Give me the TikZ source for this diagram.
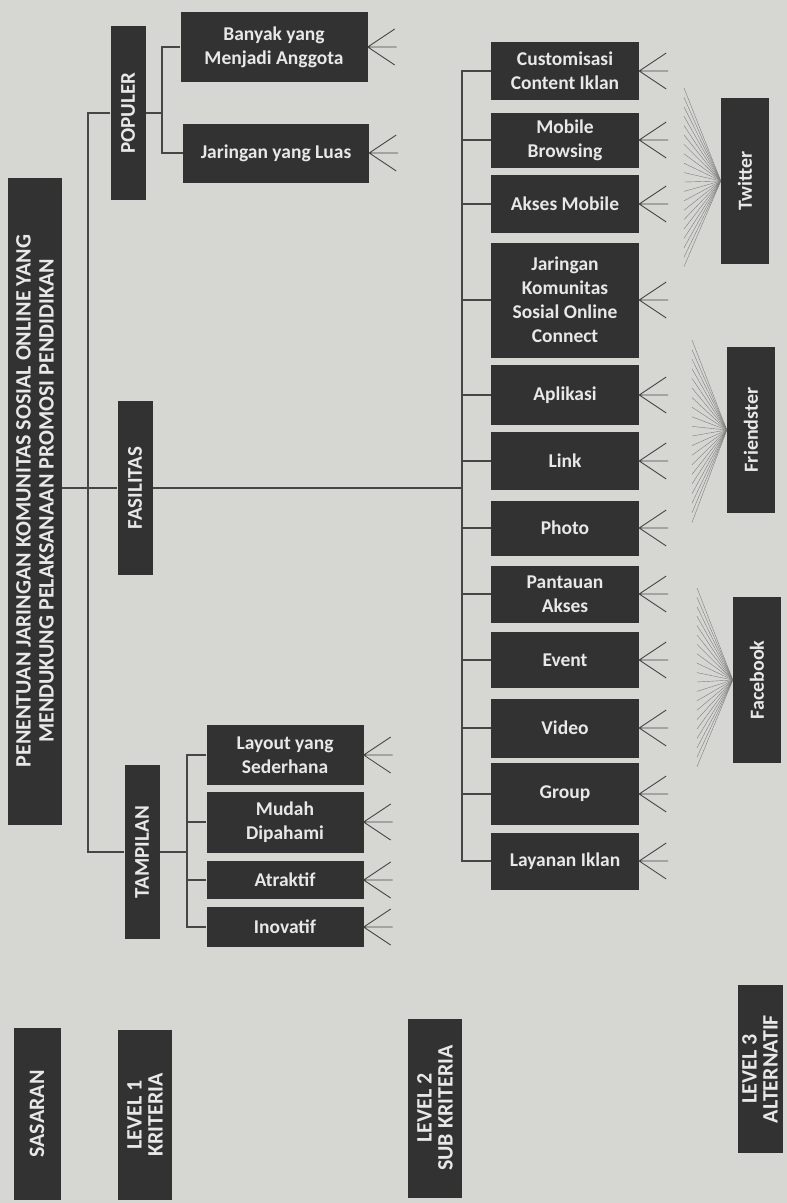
\documentclass[tikz,border=0pt]{standalone}
\usepackage{fontspec}
\setmainfont{Carlito}
\definecolor{paper}{RGB}{214,214,210}
\definecolor{boxfill}{RGB}{50,50,50}
\definecolor{boxtext}{RGB}{232,232,232}
\definecolor{wirecol}{RGB}{70,70,70}
\definecolor{fancol}{RGB}{125,125,125}

\begin{document}
\begin{tikzpicture}
  [x=1pt, y=-1pt,
   every node/.style={fill=boxfill, text=boxtext, inner sep=1pt, align=center},
   sub/.style={minimum width=148, font=\bfseries\fontsize{19.5}{24}\selectfont},
   crit/.style={rotate=90, minimum width=174, minimum height=35, font=\bfseries\fontsize{21}{22}\selectfont},
   alt/.style={rotate=90, minimum width=166, minimum height=48, font=\bfseries\fontsize{20}{20}\selectfont},
   lvl/.style={rotate=90, font=\bfseries\fontsize{22}{21}\selectfont},
   wire/.style={draw=wirecol, line width=1.4pt},
   stub/.style={draw=wirecol, line width=0.9pt},
   fan/.style={draw=fancol, line width=0.4pt}]

  \fill[paper] (0,0) rectangle (787,1203);
  \useasboundingbox (0,0) rectangle (787,1203);

  \node[rotate=90, minimum width=647, minimum height=54, font=\bfseries\fontsize{22}{23}\selectfont] (goal) at (35,501)
    {PENENTUAN JARINGAN KOMUNITAS SOSIAL ONLINE YANG\\MENDUKUNG PELAKSANAAN PROMOSI PENDIDIKAN};

  \node[crit] (pop) at (128,113) {POPULER};
  \node[crit] (fas) at (135,488) {FASILITAS};
  \node[crit] (tam) at (142,852) {TAMPILAN};

  \node[sub, minimum width=187, minimum height=70] (banyak) at (274,47) {Banyak yang\\Menjadi Anggota};
  \node[sub, minimum width=186, minimum height=59] (luas) at (276,153) {Jaringan yang Luas};

  \node[sub, minimum width=157, minimum height=60] (layout) at (285,755) {Layout yang\\Sederhana};
  \node[sub, minimum width=157, minimum height=61] (mudah) at (285,822) {Mudah\\Dipahami};
  \node[sub, minimum width=157, minimum height=38] (atraktif) at (285,880) {Atraktif};
  \node[sub, minimum width=157, minimum height=40] (inovatif) at (285,927) {Inovatif};

  \node[sub, minimum height=58] (cust) at (565,71) {Customisasi\\Content Iklan};
  \node[sub, minimum height=55] (mobile) at (565,140) {Mobile\\Browsing};
  \node[sub, minimum height=58] (akses) at (565,204) {Akses Mobile};
  \node[sub, minimum height=115] (jkso) at (565,300) {Jaringan\\Komunitas\\Sosial Online\\Connect};
  \node[sub, minimum height=60] (aplikasi) at (565,395) {Aplikasi};
  \node[sub, minimum height=58] (link) at (565,461) {Link};
  \node[sub, minimum height=55] (photo) at (565,528) {Photo};
  \node[sub, minimum height=57] (pantau) at (565,594) {Pantauan\\Akses};
  \node[sub, minimum height=56] (event) at (565,660) {Event};
  \node[sub, minimum height=59] (video) at (565,728) {Video};
  \node[sub, minimum height=62] (group) at (565,794) {Group};
  \node[sub, minimum height=57] (layanan) at (565,861) {Layanan Iklan};

  \node[alt] (twitter) at (745,181) {Twitter};
  \node[alt] (friend) at (751,430) {Friendster};
  \node[alt] (fb) at (757,680) {Facebook};

  \node[lvl, minimum width=172, minimum height=47] (sasaran) at (37,1114) {SASARAN};
  \node[lvl, minimum width=170, minimum height=54] (lv1) at (145,1115) {LEVEL 1\\KRITERIA};
  \node[lvl, minimum width=179, minimum height=54] (lv2) at (435,1108) {LEVEL 2\\SUB KRITERIA};
  \node[lvl, minimum width=168, minimum height=45] (lv3) at (760,1069) {LEVEL 3\\ALTERNATIF};

  \coordinate (trunk) at (88,488);
  \coordinate (popbr) at (162,113);
  \coordinate (tambr) at (187,852);
  \coordinate (fasbr) at (462,488);

  \draw[wire] (pop.north) -- (pop.north -| trunk) -- (tam.north -| trunk) -- (tam.north);
  \draw[wire] (goal.south |- fas.north) -- (fas.north);
  \draw[wire] (fas.south) -- (fasbr);

  \draw[wire] (pop.south) -- (popbr);
  \draw[wire] (banyak.west) -| (popbr) |- (luas.west);

  \draw[wire] (tam.south) -- (tambr);
  \draw[wire] (layout.west) -| (tambr) |- (inovatif.west);
  \foreach \n in {mudah,atraktif}
    \draw[wire] (\n.west) -- (\n.west -| tambr);

  \draw[wire] (cust.west) -| (fasbr) |- (layanan.west);
  \foreach \n in {mobile,akses,jkso,aplikasi,link,photo,pantau,event,video,group}
    \draw[wire] (\n.west) -- (\n.west -| fasbr);

  \foreach \n in {banyak,luas,layout,mudah,atraktif,inovatif,cust,mobile,akses,jkso,aplikasi,link,photo,pantau,event,video,group,layanan}
    \draw[stub] (\n.east) -- ++(27,-18) (\n.east) -- ++(29,0) (\n.east) -- ++(27,18);

  \foreach \k in {0,...,19} {
    \draw[fan] (twitter.north) -- (684,88+\k*9.4);
    \draw[fan] (friend.north) -- (692,340+\k*9.6);
    \draw[fan] (fb.north) -- (697,588+\k*9.4);
  }
\end{tikzpicture}
\end{document}
